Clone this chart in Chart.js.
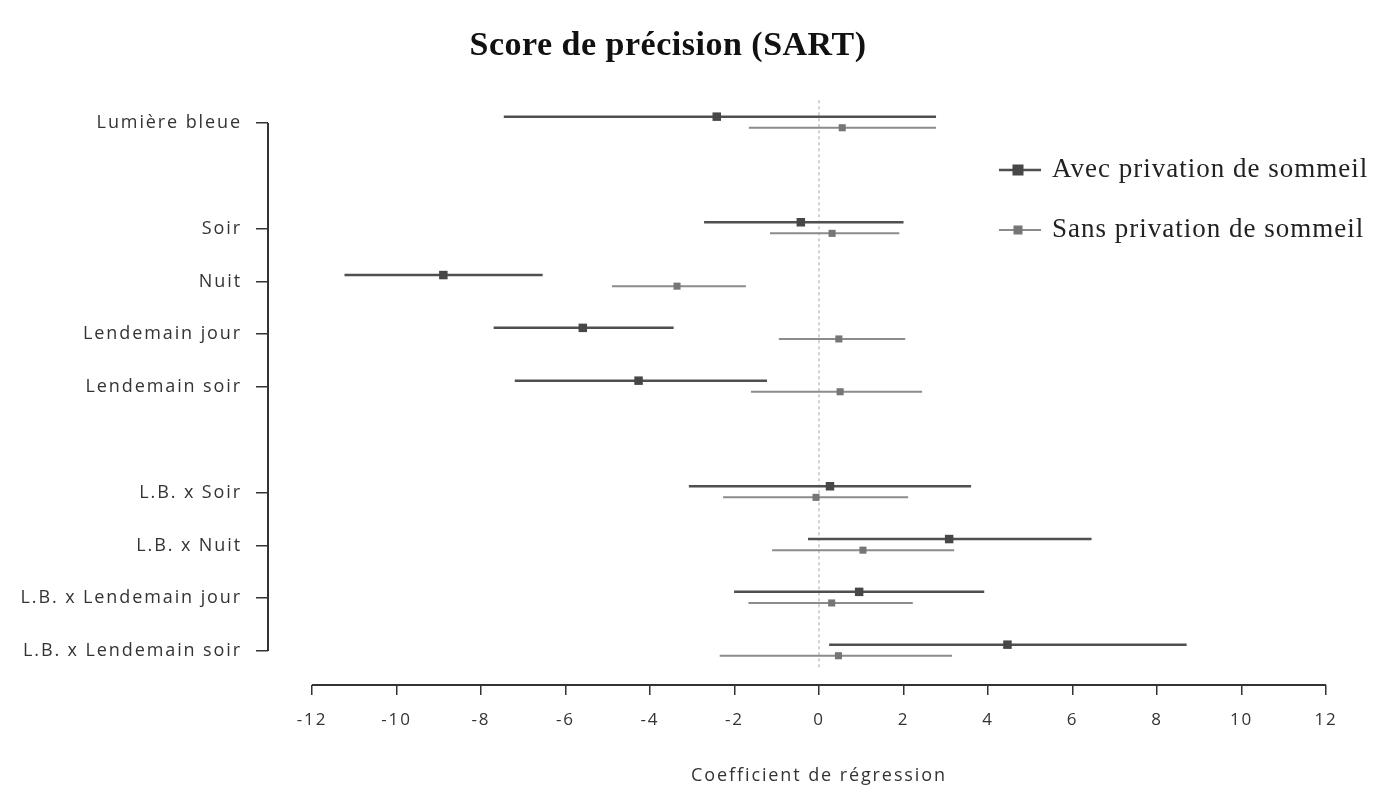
<!DOCTYPE html>
<html>
<head>
<meta charset="utf-8">
<script src="https://cdn.jsdelivr.net/npm/chart.js@4/dist/chart.umd.min.js"></script>
<style>
  html, body { margin: 0; padding: 0; background: #fff; }
  #wrap { width: 1379px; height: 793px; position: relative; }
</style>
</head>
<body>
<div id="wrap"><canvas id="c" width="1379" height="793"></canvas></div>
<script>
// ---- Data ----
const chartTitle = "Score de précision (SART)";
const axisTitle = "Coefficient de régression";
const seriesNames = ["Avec privation de sommeil", "Sans privation de sommeil"];
// categories and their row slot (blank rows separate the groups)
const categories = ["Lumière bleue", "Soir", "Nuit", "Lendemain jour", "Lendemain soir",
  "L.B. x Soir", "L.B. x Nuit", "L.B. x Lendemain jour", "L.B. x Lendemain soir"];
const rowSlots = [0, 2, 3, 4, 5, 7, 8, 9, 10];
// Avec privation de sommeil
const avecEst = [-2.42, -0.43, -8.89, -5.59, -4.27, 0.26, 3.08, 0.95, 4.46];
const avecLow = [-7.46, -2.72, -11.23, -7.70, -7.20, -3.08, -0.26, -2.01, 0.24];
const avecHigh = [2.77, 2.00, -6.54, -3.44, -1.23, 3.60, 6.45, 3.91, 8.70];
// Sans privation de sommeil
const sansEst = [0.55, 0.31, -3.36, 0.47, 0.50, -0.07, 1.04, 0.30, 0.46];
const sansLow = [-1.66, -1.16, -4.90, -0.95, -1.61, -2.27, -1.11, -1.67, -2.35];
const sansHigh = [2.77, 1.90, -1.73, 2.04, 2.44, 2.11, 3.20, 2.22, 3.15];
const xTicks = [-12, -10, -8, -6, -4, -2, 0, 2, 4, 6, 8, 10, 12];

// ---- Build ----
const AVEC_OFF = -0.12, SANS_OFF = 0.09;
function points(est, off) { return est.map((v, i) => ({ x: v, y: rowSlots[i] + off })); }
function segments(lo, hi, off) {
  const out = [];
  lo.forEach((l, i) => {
    out.push({ x: l, y: rowSlots[i] + off });
    out.push({ x: hi[i], y: rowSlots[i] + off });
    out.push({ x: null, y: null });
  });
  return out;
}

const AVEC_LINE = '#4f4f4f', AVEC_PT = '#474747';
const SANS_LINE = '#8c8c8c', SANS_PT = '#767676';
const AXIS = '#333333';
const SANS_FONT = "'Open Sans', 'DejaVu Sans', sans-serif";
const SERIF = "'Liberation Serif', 'DejaVu Serif', serif";

const decor = {
  id: 'decor',
  beforeInit(chart) { chart.ctx.letterSpacing = '1.9px'; },
  beforeDraw(chart) { chart.ctx.letterSpacing = '1.9px'; },
  beforeDatasetsDraw(chart) {
    const { ctx, scales: { x, y } } = chart;
    ctx.save();
    ctx.strokeStyle = '#c4c4c4';
    ctx.lineWidth = 1.5;
    ctx.setLineDash([3, 3]);
    const x0 = x.getPixelForValue(0);
    ctx.beginPath();
    ctx.moveTo(x0, y.getPixelForValue(-0.43));
    ctx.lineTo(x0, y.getPixelForValue(10.32));
    ctx.stroke();
    ctx.setLineDash([]);
    ctx.restore();
  },
  afterDraw(chart) {
    const { ctx, scales: { x, y }, chartArea } = chart;
    ctx.save();
    ctx.strokeStyle = AXIS;
    ctx.lineWidth = 2;
    ctx.beginPath();
    ctx.moveTo(chartArea.left, y.getPixelForValue(rowSlots[0]));
    ctx.lineTo(chartArea.left, y.getPixelForValue(rowSlots[rowSlots.length - 1]));
    ctx.stroke();
    ctx.beginPath();
    ctx.moveTo(x.getPixelForValue(xTicks[0]), chartArea.bottom);
    ctx.lineTo(x.getPixelForValue(xTicks[xTicks.length - 1]), chartArea.bottom);
    ctx.stroke();
    // title
    ctx.letterSpacing = '0.5px';
    ctx.fillStyle = '#111';
    ctx.font = "bold 34px " + SERIF;
    ctx.textAlign = 'center';
    ctx.textBaseline = 'middle';
    ctx.fillText(chartTitle, 668, 46);
    // legend
    const items = [
      { label: seriesNames[0], line: AVEC_LINE, pt: AVEC_PT, s: 11, lw: 2.5, yy: 170 },
      { label: seriesNames[1], line: SANS_LINE, pt: SANS_PT, s: 9, lw: 2, yy: 230 }
    ];
    ctx.letterSpacing = '1px';
    ctx.font = "27px " + SERIF;
    ctx.textAlign = 'left';
    items.forEach(it => {
      ctx.strokeStyle = it.line;
      ctx.lineWidth = it.lw;
      ctx.beginPath();
      ctx.moveTo(999, it.yy);
      ctx.lineTo(1041, it.yy);
      ctx.stroke();
      ctx.fillStyle = it.pt;
      ctx.fillRect(1018 - it.s / 2, it.yy - it.s / 2, it.s, it.s);
      ctx.fillStyle = '#222';
      ctx.fillText(it.label, 1052, it.yy);
    });
    ctx.restore();
  }
};

new Chart(document.getElementById('c'), {
  type: 'scatter',
  data: {
    datasets: [
      { label: seriesNames[0], data: points(avecEst, AVEC_OFF), pointStyle: 'rect',
        pointRadius: 6, backgroundColor: AVEC_PT, borderColor: AVEC_PT, borderWidth: 0 },
      { label: seriesNames[1], data: points(sansEst, SANS_OFF), pointStyle: 'rect',
        pointRadius: 5, backgroundColor: SANS_PT, borderColor: SANS_PT, borderWidth: 0 },
      { label: 'ci1', data: segments(avecLow, avecHigh, AVEC_OFF), showLine: true, spanGaps: false,
        pointRadius: 0, borderColor: AVEC_LINE, borderWidth: 2.5 },
      { label: 'ci2', data: segments(sansLow, sansHigh, SANS_OFF), showLine: true, spanGaps: false,
        pointRadius: 0, borderColor: SANS_LINE, borderWidth: 2 }
    ]
  },
  options: {
    responsive: false,
    animation: false,
    layout: { padding: { top: 91, right: 9, left: 0, bottom: 0 } },
    plugins: { legend: { display: false }, tooltip: { enabled: false }, title: { display: false } },
    scales: {
      x: {
        type: 'linear', min: -13.04, max: 13.04,
        afterBuildTicks: s => { s.ticks = xTicks.map(v => ({ value: v })); },
        afterFit: s => { s.height = 108; },
        border: { display: false },
        grid: { drawOnChartArea: false, drawTicks: true, tickLength: 10, color: AXIS, lineWidth: 1.5 },
        ticks: { color: '#333', font: { family: SANS_FONT, size: 17 }, padding: 15, maxRotation: 0 },
        title: { display: true, text: axisTitle, color: '#333',
          font: { family: SANS_FONT, size: 18 }, padding: { top: 0, bottom: 6 } }
      },
      y: {
        type: 'linear', reverse: true, min: -0.606, max: 10.644,
        afterBuildTicks: s => { s.ticks = rowSlots.map(v => ({ value: v })); },
        afterFit: s => { s.width = 268; },
        border: { display: false },
        grid: { drawOnChartArea: false, drawTicks: true, tickLength: 12, color: AXIS, lineWidth: 1.5 },
        ticks: {
          color: '#333', font: { family: SANS_FONT, size: 18 }, padding: 14,
          callback: v => { const i = rowSlots.indexOf(v); return i >= 0 ? categories[i] : ''; }
        }
      }
    }
  },
  plugins: [decor]
});
</script>
</body>
</html>
